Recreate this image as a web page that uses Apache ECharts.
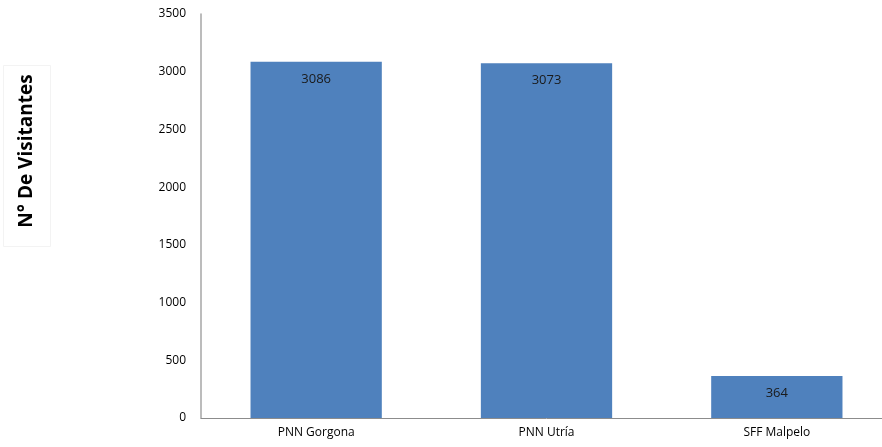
<!DOCTYPE html>
<html>
<head>
<meta charset="utf-8">
<script src="https://cdn.jsdelivr.net/npm/echarts@6/dist/echarts.min.js"></script>
<style>
html,body{margin:0;padding:0;background:#fff;overflow:hidden;}
#c{width:892px;height:447px;}
</style>
</head>
<body>
<div id="c"></div>
<script>
const categories = ["PNN Gorgona", "PNN Utría", "SFF Malpelo"];
const visitors = [3086, 3073, 364];
const yTitle = "N° De Visitantes";

const chart = echarts.init(document.getElementById('c'), null, {renderer: 'canvas'});
chart.setOption({
  animation: false,
  backgroundColor: '#ffffff',
  grid: {left: 201, right: 0, top: 14, bottom: 29, containLabel: false},
  graphic: [
    {type: 'rect', left: 3, top: 65, shape: {width: 47, height: 181},
     style: {fill: '#fff', stroke: '#f3f3f3', lineWidth: 1}},
    {type: 'text', x: 27, y: 151, rotation: Math.PI / 2,
     style: {text: yTitle, font: 'bold 19px "Open Sans", "Liberation Sans", Arial, sans-serif',
             fill: '#000', align: 'center', verticalAlign: 'middle'}}
  ],
  xAxis: {
    type: 'category',
    data: categories,
    axisLine: {lineStyle: {color: '#8c8c8c', width: 1}},
    axisTick: {show: false},
    axisLabel: {color: '#000', fontSize: 12, fontFamily: '"Open Sans", "Liberation Sans", sans-serif', margin: 9}
  },
  yAxis: {
    type: 'value',
    min: 0, max: 3500, interval: 500,
    axisLine: {show: true, lineStyle: {color: '#a6a6a6', width: 1.5}},
    axisTick: {show: false},
    splitLine: {show: false},
    axisLabel: {color: '#000', fontSize: 12, fontFamily: '"Open Sans", "Liberation Sans", sans-serif', margin: 15,
                formatter: v => String(v)}
  },
  series: [{
    type: 'bar',
    data: visitors,
    barWidth: '57%',
    itemStyle: {color: '#4f81bd'},
    label: {show: true, position: 'insideTop', distance: 11, color: '#1a1a1a', fontSize: 13,
            fontFamily: '"Open Sans", "Liberation Sans", sans-serif'}
  }]
});
</script>
</body>
</html>
